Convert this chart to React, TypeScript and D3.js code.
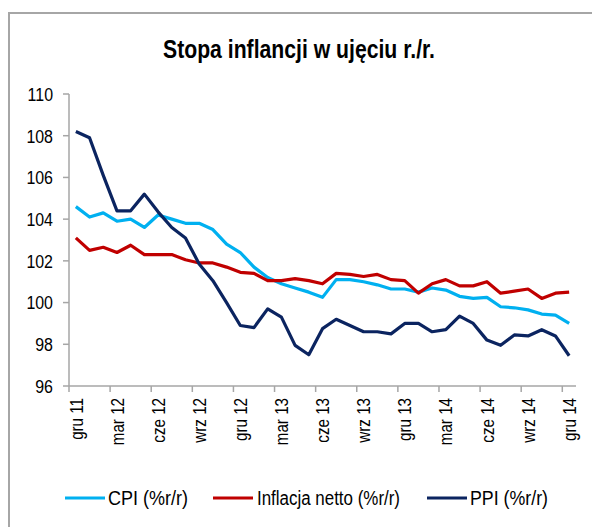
import React from "react";
import * as d3 from "d3";

const monthNames = ["sty", "lut", "mar", "kwi", "maj", "cze", "lip", "sie", "wrz", "paź", "lis", "gru"];
const categories: string[] = [];
for (let k = 0; k < 37; k++) {
  const m = (11 + k) % 12;
  const y = 11 + Math.floor((11 + k) / 12);
  categories.push(`${monthNames[m]} ${y}`);
}

const cpi = [104.6, 104.1, 104.3, 103.9, 104.0, 103.6, 104.2, 104.0, 103.8, 103.8, 103.5, 102.8, 102.4, 101.7, 101.2, 100.9, 100.7, 100.5, 100.25, 101.1, 101.1, 101.0, 100.85, 100.65, 100.65, 100.5, 100.7, 100.6, 100.3, 100.2, 100.25, 99.8, 99.75, 99.65, 99.45, 99.4, 99.0];
const netto = [103.1, 102.5, 102.65, 102.4, 102.75, 102.3, 102.3, 102.3, 102.05, 101.9, 101.9, 101.7, 101.45, 101.4, 101.05, 101.05, 101.15, 101.05, 100.9, 101.4, 101.35, 101.25, 101.35, 101.1, 101.05, 100.45, 100.9, 101.1, 100.8, 100.8, 101.0, 100.45, 100.55, 100.65, 100.2, 100.45, 100.5];
const ppi = [108.2, 107.9, 106.1, 104.4, 104.4, 105.2, 104.35, 103.6, 103.1, 101.85, 101.05, 100.0, 98.9, 98.8, 99.7, 99.3, 97.95, 97.5, 98.75, 99.2, 98.9, 98.6, 98.6, 98.5, 99.0, 99.0, 98.6, 98.7, 99.35, 99.0, 98.2, 97.95, 98.45, 98.4, 98.7, 98.4, 97.45];

const yTicks = [96, 98, 100, 102, 104, 106, 108, 110];
const title = "Stopa inflancji w ujęciu r./r.";
const seriesNames = ["CPI (%r/r)", "Inflacja netto (%r/r)", "PPI (%r/r)"];
const seriesColors = ["#00B0F0", "#C00000", "#0B2460"];

export default function App() {
  const W = 592, H = 527;
  const x = d3.scaleBand<string>().domain(categories).range([69, 576]).padding(0);
  const y = d3.scaleLinear().domain([96, 110]).range([386, 94]);
  const line = d3
    .line<number>()
    .x((_, i) => (x(categories[i]) as number) + x.bandwidth() / 2)
    .y((d) => y(d));
  const series = [cpi, netto, ppi];
  const font = "'Liberation Sans', Arial, sans-serif";
  const axisColor = "#a6a6a6";
  const legendItems = [
    { lx: 65, tx: 108, w: 80 },
    { lx: 213, tx: 257, w: 143 },
    { lx: 427, tx: 470, w: 78 },
  ];
  return (
    <svg width={W} height={H} style={{ position: "absolute", left: 0, top: 0, background: "#fff" }} fontFamily={font}>
      <rect x={0} y={0} width={W} height={H} fill="#fff" />
      <path d={`M9,${H + 5} L9,13 L${W + 5},13`} fill="none" stroke="#a6a6a6" strokeWidth={2} />
      <text x={299} y={58} textAnchor="middle" fontSize={25} fontWeight="bold" fill="#000" textLength={272} lengthAdjust="spacingAndGlyphs">
        {title}
      </text>
      {/* y axis */}
      <line x1={69} x2={69} y1={y(110)} y2={y(96)} stroke={axisColor} strokeWidth={1.5} />
      {yTicks.map((t) => (
        <g key={t}>
          <line x1={63} x2={69} y1={y(t)} y2={y(t)} stroke={axisColor} strokeWidth={1.5} />
          <text transform={`translate(53,${y(t)}) scale(0.84,1)`} dy="0.36em" textAnchor="end" fontSize={19} fill="#000">
            {t}
          </text>
        </g>
      ))}
      {/* x axis */}
      <line x1={69} x2={576} y1={y(96)} y2={y(96)} stroke={axisColor} strokeWidth={1.5} />
      {categories.map((c, i) =>
        i % 3 === 0 ? (
          <g key={c}>
            <line x1={x(c) as number} x2={x(c) as number} y1={y(96)} y2={y(96) + 6} stroke={axisColor} strokeWidth={1.5} />
            <text
              transform={`translate(${(x(c) as number) + x.bandwidth() / 2},398) rotate(-90) scale(0.82,1)`}
              dy="0.36em"
              textAnchor="end"
              fontSize={18.5}
              fill="#000"
            >
              {c}
            </text>
          </g>
        ) : null
      )}
      {series.map((s, k) => (
        <path key={k} d={line(s) as string} fill="none" stroke={seriesColors[k]} strokeWidth={3.2} strokeLinejoin="round" />
      ))}
      {legendItems.map((it, k) => (
        <g key={k}>
          <line x1={it.lx} x2={it.lx + 40} y1={498} y2={498} stroke={seriesColors[k]} strokeWidth={3.2} />
          <text x={it.tx} y={505} fontSize={20} fill="#000" textLength={it.w} lengthAdjust="spacingAndGlyphs">
            {seriesNames[k]}
          </text>
        </g>
      ))}
    </svg>
  );
}
